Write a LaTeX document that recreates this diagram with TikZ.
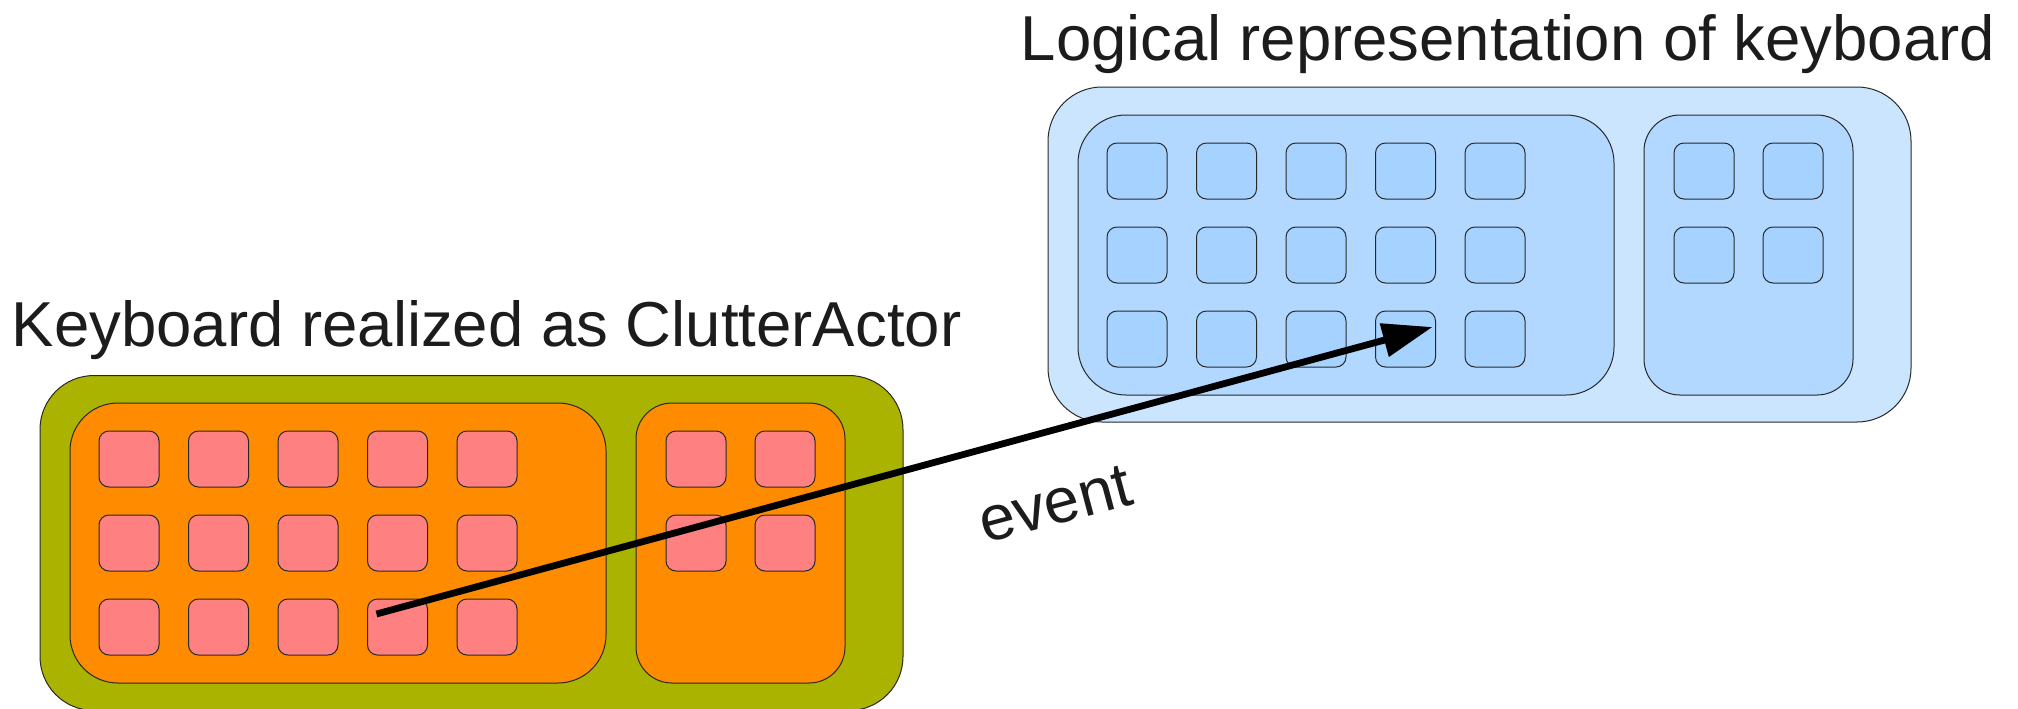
\documentclass[tikz,border=0pt]{standalone}
\usepackage{fontspec}
\setmainfont{Liberation Sans}
\usetikzlibrary{arrows.meta,calc}
\definecolor{kgreen}{RGB}{170,180,0}
\definecolor{korange}{RGB}{255,140,0}
\definecolor{kred}{RGB}{255,128,128}
\definecolor{bouter}{RGB}{204,229,255}
\definecolor{binner}{RGB}{179,216,255}
\definecolor{bkey}{RGB}{166,210,255}
\definecolor{edge}{RGB}{40,40,40}
\definecolor{txt}{RGB}{28,28,28}
\tikzset{
  shapebox/.style={draw=edge, line width=0.5pt, rectangle, inner sep=0pt, outer sep=0pt},
  outerbox/.style={shapebox, minimum width=431.5pt, minimum height=167.5pt, rounded corners=27pt},
  widebox/.style={shapebox, minimum width=268pt, minimum height=140pt, rounded corners=24pt},
  narrowbox/.style={shapebox, minimum width=104.5pt, minimum height=140pt, rounded corners=18pt},
  keybox/.style={shapebox, minimum width=30pt, minimum height=28pt, rounded corners=5pt},
  label/.style={inner sep=0pt, text=txt, font=\fontsize{31.75}{38}\selectfont},
  evarrow/.style={line width=3.4pt, -{Triangle[length=25pt,width=16.5pt]}}
}
\begin{document}
\begin{tikzpicture}[x=0.5pt,y=-0.5pt]
\clip (0,0) rectangle (2018,708);
\fill[white] (0,0) rectangle (2018,708);
% left keyboard (ClutterActor)
\node[outerbox, fill=kgreen] (gouter) at (471.5,543) {};
\node[widebox, fill=korange] (omain) at (338,543) {};
\node[narrowbox, fill=korange] (oside) at (740.5,543) {};
\foreach \r in {1,2,3}{
  \foreach \c in {1,...,5}{
    \node[keybox, fill=kred] (ok-\r-\c) at ({129+89.5*(\c-1)},{459+84*(\r-1)}) {};
  }
}
\foreach \r in {1,2}{
  \foreach \c in {1,2}{
    \node[keybox, fill=kred] (oks-\r-\c) at ({696+89*(\c-1)},{459+84*(\r-1)}) {};
  }
}
% right keyboard (logical)
\node[outerbox, fill=bouter] (bouterbox) at (1479.5,254.5) {};
\node[widebox, fill=binner] (bmain) at (1346,255) {};
\node[narrowbox, fill=binner] (bside) at (1748.5,255) {};
\foreach \r in {1,2,3}{
  \foreach \c in {1,...,5}{
    \node[keybox, fill=bkey] (bk-\r-\c) at ({1137+89.5*(\c-1)},{171+84*(\r-1)}) {};
  }
}
\foreach \r in {1,2}{
  \foreach \c in {1,2}{
    \node[keybox, fill=bkey] (bks-\r-\c) at ({1704+89*(\c-1)},{171+84*(\r-1)}) {};
  }
}
% titles
\node[label, anchor=base west] (tleft) at (11.5,346) {Keyboard realized as ClutterActor};
\node[label, anchor=base west] (tright) at (1020.5,60) {Logical representation of keyboard};
% event arrow
\coordinate (evstart) at ($(ok-3-4.north west)+(9,15)$);
\coordinate (evend) at ($(bk-3-4.north west)+(57,16)$);
\draw[evarrow] (evstart) -- (evend);
\node[label, rotate=15] (evlabel) at (1055,504) {event};
\end{tikzpicture}
\end{document}
